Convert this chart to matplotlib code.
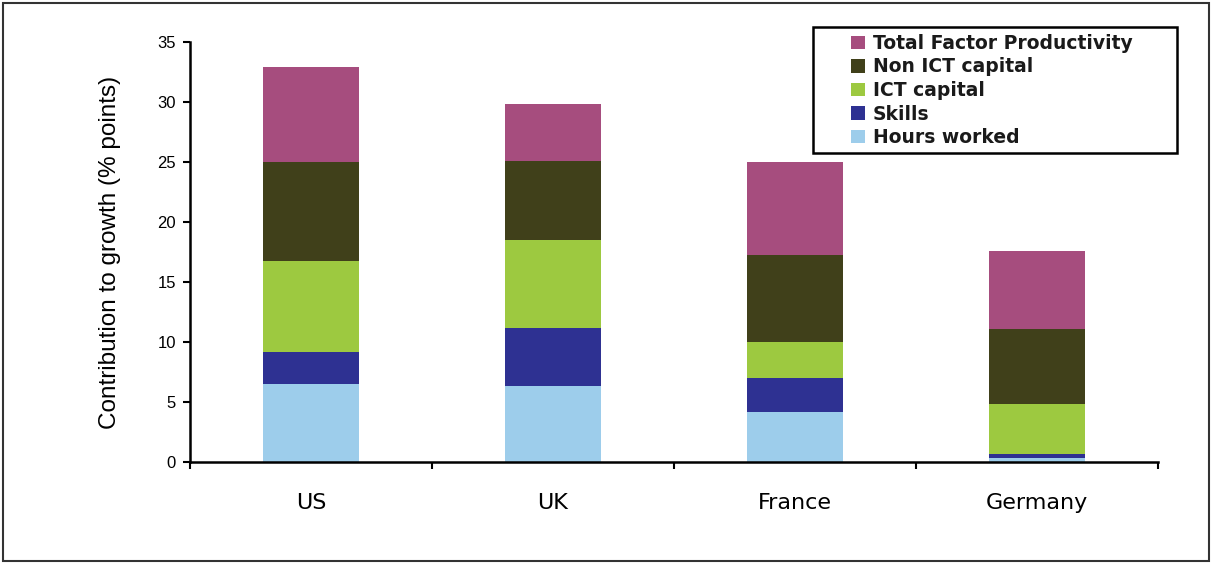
import numpy as np
import matplotlib.pyplot as plt
from matplotlib.patches import Rectangle

# data (% points)
countries = ["US", "UK", "France", "Germany"]
hours = [6.5, 6.3, 4.2, 0.35]
skills = [2.7, 4.9, 2.8, 0.3]
ict = [7.55, 7.3, 3.0, 4.15]
non_ict = [8.25, 6.6, 7.25, 6.3]
tfp = [7.9, 4.7, 7.75, 6.5]

series = [
    ("Hours worked", hours, "#9DCDEB"),
    ("Skills", skills, "#2E3192"),
    ("ICT capital", ict, "#9DC940"),
    ("Non ICT capital", non_ict, "#40401A"),
    ("Total Factor Productivity", tfp, "#A64D7E"),
]

fig = plt.figure(figsize=(12.12, 5.63), dpi=100)
ax = fig.add_axes([190 / 1212, 1 - 462 / 563, (1158 - 190) / 1212, (462 - 42) / 563])

x = np.arange(len(countries))
bottom = np.zeros(len(countries))
handles = []
for name, vals, col in series:
    b = ax.bar(x, vals, width=0.4, bottom=bottom, color=col, label=name)
    handles.append(b)
    bottom += np.array(vals)

ax.set_xlim(-0.5, 3.5)
ax.set_ylim(0, 35)
ax.set_yticks(np.arange(0, 36, 5))
ax.tick_params(axis="y", direction="out", length=5, width=1.5, labelsize=12, pad=5)
for t in ax.get_yticklabels():
    t.set_family("Liberation Sans")

# boundary ticks (no labels) + category labels as minor ticks
ax.set_xticks(np.arange(-0.5, 4.0, 1.0))
ax.set_xticklabels([])
ax.set_xticks(x, minor=True)
ax.set_xticklabels(countries, minor=True, fontsize=16, family="DejaVu Sans")
ax.tick_params(axis="x", which="major", direction="out", length=5, width=1.5)
ax.tick_params(axis="x", which="minor", length=0, pad=22)

for s in ["top", "right"]:
    ax.spines[s].set_visible(False)
for s in ["left", "bottom"]:
    ax.spines[s].set_linewidth(1.8)

ax.set_ylabel("Contribution to growth (% points)", fontsize=17.5,
              family="Liberation Sans", labelpad=26)

leg = ax.legend(handles[::-1], [s[0] for s in series][::-1],
                loc="upper left", bbox_to_anchor=(851 / 1212, 1 - 34 / 563),
                bbox_transform=fig.transFigure, borderaxespad=0,
                prop={"size": 13.5, "weight": "bold", "family": "DejaVu Sans"},
                frameon=False,
                handlelength=0.75, handleheight=0.75, handletextpad=0.4,
                labelspacing=0.24, borderpad=0.0)
for t in leg.get_texts():
    t.set_color("#1a1a1a")

# legend frame as in the original (wide left margin)
fig.patches.append(Rectangle((813 / 1212, 1 - 153 / 563), 364 / 1212, 126 / 563,
                             transform=fig.transFigure, fill=False,
                             edgecolor="black", linewidth=1.8))

# outer frame round the whole figure
fig.patches.append(Rectangle((3 / 1212, 2 / 563), 1206 / 1212, 558 / 563,
                             transform=fig.transFigure, fill=False,
                             edgecolor="#333333", linewidth=1.5))

fig.savefig("out.png", dpi=100)
